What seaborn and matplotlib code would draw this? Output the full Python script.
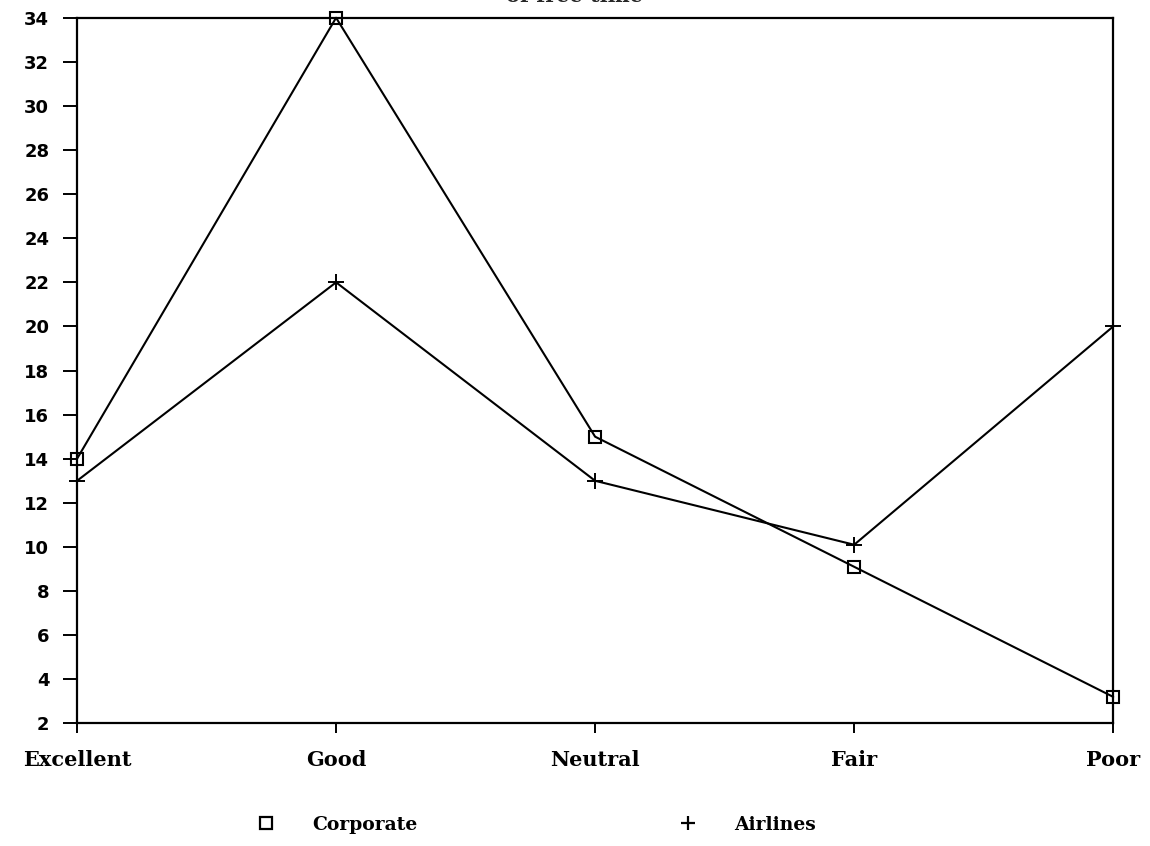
import pandas as pd
import seaborn as sns
import matplotlib.pyplot as plt

# valores
categorias = ['Excellent', 'Good', 'Neutral', 'Fair', 'Poor']
corporate = [14, 34, 15, 9.1, 3.2]
airlines = [13, 22, 13, 10.1, 20]
yticks = list(range(2, 35, 2))

corp = pd.DataFrame({'cat': categorias, 'valor': corporate})
air = pd.DataFrame({'cat': categorias, 'valor': airlines})

sns.set_style('ticks')
plt.rcParams['font.family'] = ['DejaVu Serif']

fig, ax = plt.subplots(1, 1, figsize=(11.5, 8.46), dpi=100)
fig.subplots_adjust(left=0.067, right=0.968, top=0.979, bottom=0.145)

sns.lineplot(data=corp, x='cat', y='valor', color='black', marker='s',
             markersize=9, markerfacecolor='none', markeredgecolor='black',
             markeredgewidth=1.5, linewidth=1.5, sort=False, ax=ax, clip_on=False)
sns.lineplot(data=air, x='cat', y='valor', color='black', marker='+',
             markersize=11, markeredgecolor='black', markeredgewidth=1.4,
             linewidth=1.5, sort=False, ax=ax, clip_on=False)

ax.set_xlim(0, 4)
ax.set_ylim(2, 34)
ax.set_yticks(yticks)
ax.set_xlabel('')
ax.set_ylabel('')
for s in ax.spines.values():
    s.set_linewidth(1.6)
    s.set_color('black')
ax.tick_params(axis='y', length=10, width=1.4, colors='black', pad=10)
ax.tick_params(axis='x', length=7, width=1.4, colors='black', pad=12)
for lb in ax.get_xticklabels():
    lb.set_fontsize(15)
    lb.set_fontweight('bold')
for lb in ax.get_yticklabels():
    lb.set_fontsize(13)
    lb.set_fontweight('bold')
    lb.set_family('DejaVu Sans')

fig.text(0.5, 1.005, 'of free time', ha='center', va='center',
         fontsize=15, fontweight='bold')

h1 = plt.Line2D([], [], color='black', marker='s', markerfacecolor='none',
                markeredgewidth=1.6, markersize=8, linestyle='none')
h2 = plt.Line2D([], [], color='black', marker='+', markeredgewidth=1.6,
                markersize=10, linestyle='none')
leg1 = fig.legend([h1], ['Corporate'], loc='center left',
                  bbox_to_anchor=(247 / 1150, 0.025), frameon=False,
                  borderpad=0, borderaxespad=0, handletextpad=1.5,
                  labelcolor='black', prop={'size': 13.5, 'weight': 'bold'})
leg2 = fig.legend([h2], ['Airlines'], loc='center left',
                  bbox_to_anchor=(669 / 1150, 0.025), frameon=False,
                  borderpad=0, borderaxespad=0, handletextpad=1.5,
                  labelcolor='black', prop={'size': 13.5, 'weight': 'bold'})

fig.savefig('out.png', dpi=100)
